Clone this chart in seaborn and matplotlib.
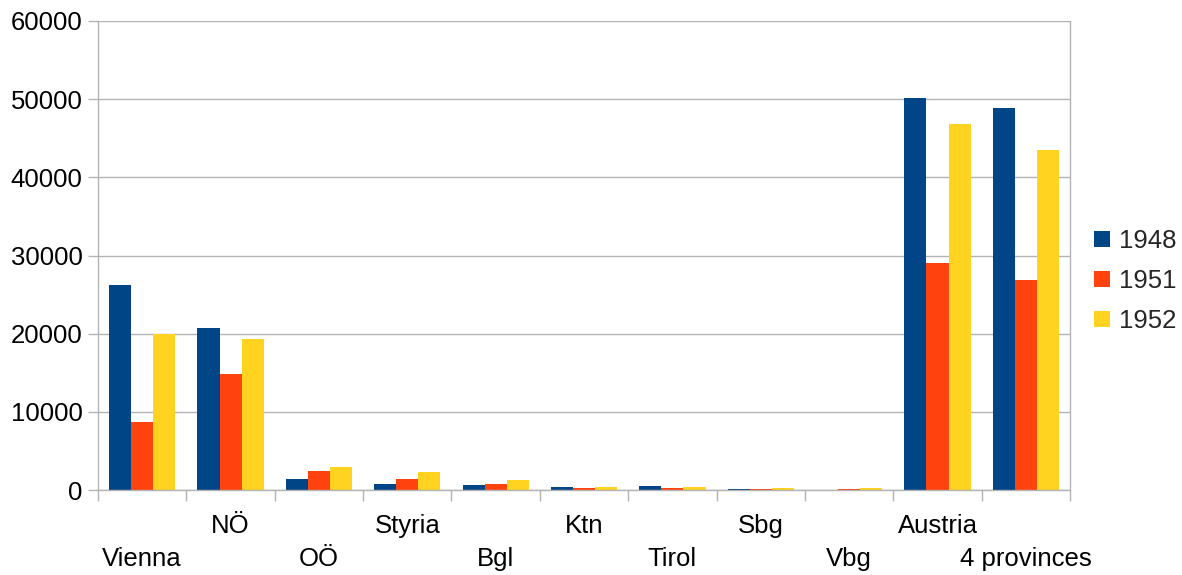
import matplotlib
matplotlib.use("Agg")
import matplotlib.pyplot as plt
import seaborn as sns
import pandas as pd
from matplotlib.patches import Patch

regions = ["Vienna", "NÖ", "OÖ", "Styria", "Bgl", "Ktn", "Tirol", "Sbg", "Vbg", "Austria", "4 provinces"]
years = ["1948", "1951", "1952"]
v1948 = [26200, 20700, 1350, 830, 700, 330, 470, 90, 30, 50150, 48900]
v1951 = [8750, 14900, 2370, 1470, 830, 220, 220, 90, 90, 29000, 26850]
v1952 = [20000, 19300, 2880, 2240, 1220, 340, 340, 220, 220, 46850, 43500]
colors = ["#004586", "#ff420e", "#ffd320"]

rows = []
for yr, vals in zip(years, [v1948, v1951, v1952]):
    for r, v in zip(regions, vals):
        rows.append({"region": r, "year": yr, "value": v})
df = pd.DataFrame(rows)

sns.set_theme(style="white")
plt.rcParams["font.family"] = ["Liberation Sans", "DejaVu Sans"]
FS = 18.5

fig = plt.figure(figsize=(11.82, 5.75), dpi=100)
ax = fig.add_axes([98 / 1182, 1 - 490 / 575, (1070 - 98) / 1182, (490 - 21) / 575])

sns.barplot(data=df, x="region", y="value", hue="year", order=regions, hue_order=years,
            palette=colors, width=0.75, gap=0, saturation=1, legend=False, ax=ax,
            linewidth=0, errorbar=None)

grid_c = "#b3b3b3"
ax.set_xlim(-0.5, len(regions) - 0.5)
ax.set_ylim(0, 60000)
ax.set_yticks(range(0, 60001, 10000))
ax.set_yticklabels([str(v) for v in range(0, 60001, 10000)], fontsize=FS, color="black")
ax.yaxis.grid(True, color=grid_c, linewidth=1)
ax.set_axisbelow(True)
ax.tick_params(axis="y", length=7, width=1, color=grid_c, pad=4, left=True)
for s in ax.spines.values():
    s.set_color(grid_c)
    s.set_linewidth(1)
ax.spines["top"].set_visible(False)

ax.set_xticks(range(len(regions)))
ax.set_xticklabels(regions, fontsize=FS, color="black")
ax.tick_params(axis="x", length=0, bottom=True)
for i, t in enumerate(ax.xaxis.get_major_ticks()):
    t.set_pad(41 if i % 2 == 0 else 17)
ax.set_xticks([i - 0.5 for i in range(len(regions) + 1)], minor=True)
ax.tick_params(axis="x", which="minor", length=8, width=1, color=grid_c, bottom=True)
ax.set_xlabel("")
ax.set_ylabel("")

handles = [Patch(facecolor=c, edgecolor="none") for c in colors]
fig.legend(handles, years, loc="center left", bbox_to_anchor=(1094 / 1182, 1 - 281 / 575),
           frameon=False, fontsize=FS, handlelength=0.62, handleheight=0.62,
           handletextpad=0.35, labelspacing=0.62, borderaxespad=0, borderpad=0)

fig.savefig("out.png", dpi=100)
